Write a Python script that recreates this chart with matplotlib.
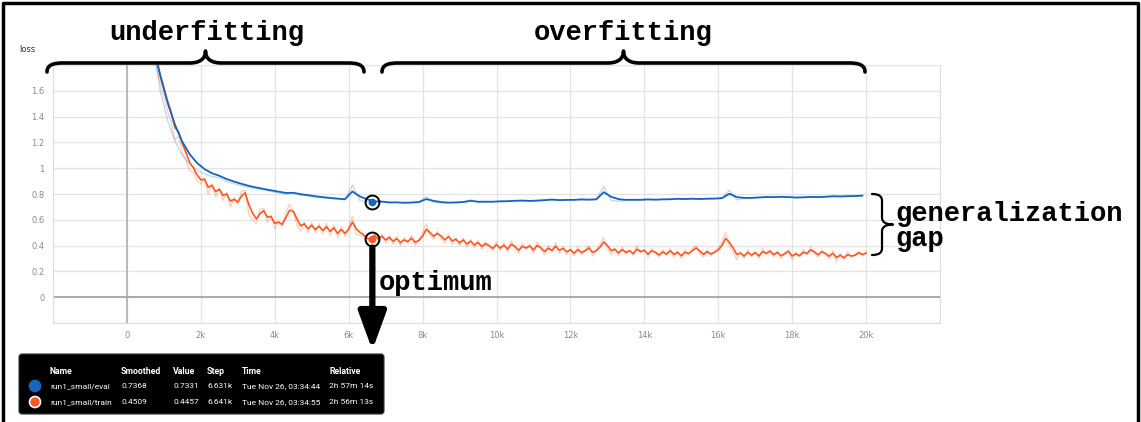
import numpy as np
import matplotlib
matplotlib.use('Agg')
import matplotlib.pyplot as plt
from matplotlib.path import Path
from matplotlib.patches import PathPatch, FancyBboxPatch, Circle

##########################################################
# data
train_start = 700   # first logged step
train_every = 100
train_raw = [1.95, 1.78, 1.66,
             1.55, 1.44, 1.36, 1.22, 1.25, 1.12, 1.06, 0.98, 0.97, 0.90,
             0.88, 0.92, 0.80, 0.88, 0.78, 0.85, 0.75, 0.81, 0.70, 0.77,
             0.72, 0.82, 0.83, 0.64, 0.60, 0.57, 0.68, 0.69, 0.58, 0.63,
             0.53, 0.59, 0.55, 0.66, 0.72, 0.66, 0.56, 0.51, 0.58, 0.50,
             0.58, 0.50, 0.57, 0.49, 0.57, 0.48, 0.56, 0.46, 0.55, 0.47,
             0.55, 0.63, 0.49, 0.48, 0.47, 0.43, 0.45, 0.50, 0.43, 0.49,
             0.42, 0.48, 0.41, 0.47, 0.40, 0.46, 0.42, 0.48, 0.40, 0.45,
             0.50, 0.57, 0.48, 0.45, 0.51, 0.46, 0.42, 0.49, 0.41, 0.46,
             0.40, 0.46, 0.39, 0.45, 0.38, 0.44, 0.37, 0.43, 0.39, 0.36,
             0.43, 0.36, 0.42, 0.35, 0.44, 0.38, 0.34, 0.42, 0.37, 0.41,
             0.34, 0.43, 0.37, 0.33, 0.40, 0.35, 0.42, 0.34, 0.39, 0.33,
             0.38, 0.32, 0.39, 0.33, 0.37, 0.40, 0.32, 0.37, 0.41, 0.46,
             0.38, 0.33, 0.38, 0.32, 0.39, 0.33, 0.37, 0.32, 0.40, 0.34,
             0.37, 0.31, 0.38, 0.34, 0.31, 0.37, 0.32, 0.38, 0.31, 0.36,
             0.30, 0.37, 0.33, 0.38, 0.40, 0.34, 0.31, 0.37, 0.32, 0.36,
             0.38, 0.43, 0.50, 0.40, 0.35, 0.29, 0.35, 0.30, 0.37, 0.31,
             0.36, 0.30, 0.38, 0.33, 0.37, 0.31, 0.36, 0.30, 0.35, 0.37,
             0.29, 0.35, 0.31, 0.37, 0.33, 0.39, 0.34, 0.31, 0.37, 0.33,
             0.30, 0.36, 0.28, 0.34, 0.29, 0.35, 0.31, 0.33, 0.36, 0.32,
             0.35]

eval_start = 700
eval_every = 200
eval_raw = [1.98, 1.60, 1.37, 1.21, 1.10, 1.03, 0.985, 0.955, 0.935, 0.925,
            0.895, 0.88, 0.865, 0.85, 0.84, 0.83, 0.82, 0.81, 0.80, 0.81,
            0.79, 0.785, 0.775, 0.77, 0.765, 0.76, 0.755, 0.87, 0.75, 0.74,
            0.73, 0.74, 0.73, 0.735, 0.73, 0.735, 0.74, 0.78, 0.735, 0.73,
            0.73, 0.735, 0.74, 0.755, 0.735, 0.74, 0.74, 0.745, 0.745, 0.75,
            0.75, 0.745, 0.75, 0.755, 0.76, 0.75, 0.755, 0.755, 0.76, 0.755,
            0.76, 0.86, 0.75, 0.745, 0.75, 0.755, 0.755, 0.76, 0.755, 0.76,
            0.76, 0.765, 0.76, 0.765, 0.76, 0.765, 0.765, 0.77, 0.83, 0.755,
            0.765, 0.77, 0.775, 0.78, 0.775, 0.78, 0.775, 0.77, 0.775, 0.78,
            0.775, 0.78, 0.785, 0.78, 0.785, 0.785, 0.79]

# tooltip at the optimum
tip_names = ['run1_small/eval', 'run1_small/train']
tip_smoothed = [0.7368, 0.4509]
tip_value = [0.7331, 0.4457]
tip_step = [6631, 6641]
tip_time = ['Tue Nov 26, 03:34:44', 'Tue Nov 26, 03:34:55']
tip_relative = ['2h 57m 14s', '2h 56m 13s']

xtick_vals = [-2000, 0, 2000, 4000, 6000, 8000, 10000, 12000, 14000, 16000, 18000, 20000, 22000]
xtick_text = ['', '0', '2k', '4k', '6k', '8k', '10k', '12k', '14k', '16k', '18k', '20k', '']
ytick_vals = [-0.2, 0, 0.2, 0.4, 0.6, 0.8, 1.0, 1.2, 1.4, 1.6, 1.8]
ytick_text = ['', '0', '0.2', '0.4', '0.6', '0.8', '1', '1.2', '1.4', '1.6', '']

c_eval = '#1565c0'
c_train = '#ff5722'
mono = 'Liberation Mono'
########################################################

def smooth(vals, w):
    # tensorboard style debiased exponential moving average
    out = []
    last = 0.0
    for i, v in enumerate(vals):
        last = last * w + (1 - w) * v
        out.append(last / (1 - w ** (i + 1)))
    return np.array(out)


def brace(ax, p0, p1, h1, h2, r, lw):
    # curly brace from p0 to p1, bulging along the left normal
    p0 = np.array(p0, float)
    p1 = np.array(p1, float)
    L = np.linalg.norm(p1 - p0)
    d = (p1 - p0) / L
    n = np.array([d[1], -d[0]])
    m = L / 2
    pts = [(0, 0), (0, h1 * 0.8), (r * 0.4, h1), (r, h1),
           (m - r, h1),
           (m - r * 0.4, h1), (m, h1 + (h2 - h1) * 0.3), (m, h2),
           (m, h1 + (h2 - h1) * 0.3), (m + r * 0.4, h1), (m + r, h1),
           (L - r, h1),
           (L - r * 0.4, h1), (L, h1 * 0.8), (L, 0)]
    codes = [Path.MOVETO, Path.CURVE4, Path.CURVE4, Path.CURVE4,
             Path.LINETO,
             Path.CURVE4, Path.CURVE4, Path.CURVE4,
             Path.CURVE4, Path.CURVE4, Path.CURVE4,
             Path.LINETO,
             Path.CURVE4, Path.CURVE4, Path.CURVE4]
    xy = [p0 + u * d + v * n for u, v in pts]
    ax.add_patch(PathPatch(Path(xy, codes), fill=False, lw=lw, ec='black',
                           capstyle='round', joinstyle='round'))


train_steps = train_start + train_every * np.arange(len(train_raw))
eval_steps = eval_start + eval_every * np.arange(len(eval_raw))
train_sm = smooth(train_raw, 0.45)
eval_sm = smooth(eval_raw, 0.45)

W, H = 1141, 422
fig = plt.figure(figsize=(W / 100, H / 100), dpi=100)
ax = fig.add_axes([53 / W, (H - 323) / H, 887 / W, 258 / H])

ax.plot(train_steps, train_raw, color=c_train, lw=1.0, alpha=0.28)
ax.plot(eval_steps, eval_raw, color=c_eval, lw=1.0, alpha=0.25)
ax.plot(train_steps, train_sm, color=c_train, lw=1.2)
ax.plot(eval_steps, eval_sm, color=c_eval, lw=1.3)

ax.set_xlim(-2000, 22000)
ax.set_ylim(-0.2, 1.8)
ax.set_xticks(xtick_vals)
ax.set_xticklabels(xtick_text)
ax.set_yticks(ytick_vals)
ax.set_yticklabels(ytick_text)
ax.tick_params(length=0, labelsize=6, labelcolor='#8a8a8a', pad=6)
ax.grid(True, color='#e3e3e3', lw=0.9)
ax.set_axisbelow(True)
ax.axhline(0, color='#999999', lw=1.1, zorder=1)
ax.axvline(0, color='#aaaaaa', lw=1.1, zorder=1)
for s in ['left', 'bottom', 'right']:
    ax.spines[s].set_color('#dddddd')
ax.spines['top'].set_visible(False)
ax.text(-0.038, 1.05, 'loss', transform=ax.transAxes, fontsize=6, color='#333333')

# optimum markers and arrow
for s, v, c in zip(tip_step, tip_smoothed, [c_eval, c_train]):
    ax.plot(s, v, 'o', ms=4.5, color=c, zorder=5)
    ax.plot(s, v, 'o', ms=10, mfc='none', mec='black', mew=1.4, zorder=6)
ax.annotate('', xy=(tip_step[1], -0.41), xytext=(tip_step[1], 0.385),
            arrowprops=dict(arrowstyle='-|>,head_length=1.15,head_width=0.42',
                            lw=4.5, color='black', shrinkA=0, shrinkB=0,
                            mutation_scale=20),
            annotation_clip=False)

# overlay in pixel coordinates for the hand drawn notes
ov = fig.add_axes([0, 0, 1, 1], zorder=10)
ov.set_xlim(0, W)
ov.set_ylim(H, 0)
ov.axis('off')
ov.patch.set_alpha(0)

# frame on left, top and right only
ov.plot([3, 3, W - 3, W - 3], [H, 3, 3, H], color='black', lw=2.5)

brace(ov, (47, 72), (364, 72), 9, 21, 16, 2.6)
brace(ov, (382, 72), (865, 72), 9, 21, 16, 2.6)
brace(ov, (872, 194), (872, 255), 10, 21, 7, 1.6)

ov.text(207, 33, 'underfitting', family=mono, weight='bold', fontsize=19.5,
        ha='center', va='center')
ov.text(623, 33, 'overfitting', family=mono, weight='bold', fontsize=19.5,
        ha='center', va='center')
ov.text(895, 214, 'generalization', family=mono, weight='bold', fontsize=19.5,
        ha='left', va='center')
ov.text(895, 239, 'gap', family=mono, weight='bold', fontsize=19.5,
        ha='left', va='center')
ov.text(379, 283, 'optimum', family=mono, weight='bold', fontsize=19.5,
        ha='left', va='center')

# tooltip box
ov.add_patch(FancyBboxPatch((19, 354), 365, 60, boxstyle='round,pad=0,rounding_size=3',
                            fc='black', ec='#333333', lw=0.8))
cols = [50, 121, 173, 207, 242, 329]
heads = ['Name', 'Smoothed', 'Value', 'Step', 'Time', 'Relative']
for x, h in zip(cols, heads):
    ov.text(x, 372, h, color='white', fontsize=6.3, weight='bold',
            family='Roboto', va='center')
rows_y = [386, 402]
for i in range(2):
    y = rows_y[i]
    c = [c_eval, c_train][i]
    ov.add_patch(Circle((35, y), 5.5, fc=c, ec='white' if i == 1 else c, lw=1.2))
    cells = [tip_names[i], '%.4f' % tip_smoothed[i], '%.4f' % tip_value[i],
             '%.3fk' % (tip_step[i] / 1000.0), tip_time[i], tip_relative[i]]
    for x, t in zip(cols, cells):
        ov.text(x, y, t, color='white', fontsize=6, family='Roboto', va='center')

plt.savefig('out.png', dpi=100)
